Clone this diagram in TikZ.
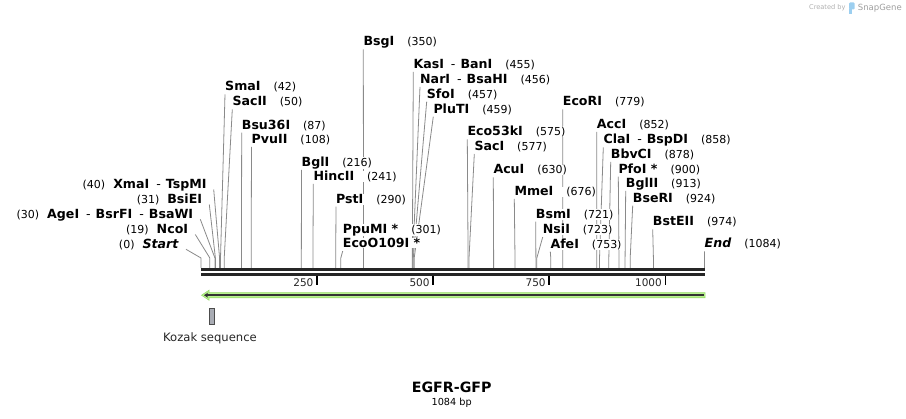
\documentclass[tikz,border=0pt]{standalone}
\usepackage{fontspec}
\setmainfont{DejaVu Sans}
\usetikzlibrary{arrows.meta,backgrounds}
\definecolor{enzgray}{HTML}{8A8A8A}
\definecolor{bardark}{HTML}{262626}
\definecolor{featg}{HTML}{B8F28E}
\definecolor{featgd}{HTML}{98DC6C}
\definecolor{kozakf}{HTML}{A9ACB4}
\definecolor{sgray}{HTML}{AFAFAF}
\definecolor{sblue}{HTML}{9CCFF0}
\newcommand\nf[1]{{\mdseries\upshape\fontsize{11}{13}\selectfont #1}}
\newcommand\sepd{\hspace{7pt}{\mdseries -}\hspace{5pt}}
\newcommand\gapn{\hspace{13pt}}
\newcommand\rsite[5]{%
  \node[enzlab, anchor=base west] (n#1) at (#3,#4) {#5};
  \coordinate (k#1) at ({201+#2*0.4645},258);
  \coordinate (b#1) at ({201+#2*0.4645},268);
  \begin{pgfonlayer}{background}
  \draw[enzline] ([yshift=-3.3pt]n#1.base west) -- (k#1) -- (b#1);
  \end{pgfonlayer}}
\newcommand\lsite[5]{%
  \node[enzlab, anchor=base east] (n#1) at (#3,#4) {#5};
  \coordinate (k#1) at ({201+#2*0.4645},258);
  \coordinate (b#1) at ({201+#2*0.4645},268);
  \begin{pgfonlayer}{background}
  \draw[enzline] ([xshift=7pt,yshift=-1pt]n#1.base east) -- (k#1) -- (b#1);
  \end{pgfonlayer}}
\begin{document}
\begin{tikzpicture}[x=1pt,y=-1pt,
  enzlab/.style={inner sep=0pt, fill=white, font=\bfseries\fontsize{12.6}{14}\selectfont},
  enzline/.style={draw=enzgray, line width=0.8pt},
  tickmark/.style={draw=black, line width=1.8pt},
  ticklab/.style={inner sep=0pt, anchor=base east, font=\fontsize{10.5}{12}\selectfont, text=black!85}]
\useasboundingbox (0,0) rectangle (906,419);

% watermark
\node[inner sep=0pt, anchor=base east, text=sgray, font=\fontsize{6.6}{8}\selectfont] (wm1) at (845.7,10) {Created by};
\node[inner sep=0pt, anchor=base west, text=sgray!90!black, font=\fontsize{8.5}{10}\selectfont] (wm2) at (857.7,10.5) {SnapGene};
\fill[sblue, rounded corners=1pt] (849,2.5) rectangle (854.5,9.5);
\fill[sblue] (849,9) rectangle (851.5,14);

% right-hand labels
\rsite{SmaI}{42}{225}{91}{SmaI\gapn\nf{(42)}}
\rsite{SacII}{50}{232.3}{106}{SacII\gapn\nf{(50)}}
\rsite{Bsu}{87}{241.7}{129.3}{Bsu36I\gapn\nf{(87)}}
\rsite{PvuII}{108}{251.5}{143.5}{PvuII\gapn\nf{(108)}}
\rsite{BglI}{216}{301.5}{166.5}{BglI\gapn\nf{(216)}}
\rsite{HincII}{241}{313.3}{180.7}{HincII\gapn\nf{(241)}}
\rsite{PstI}{290}{336}{203.3}{PstI\gapn\nf{(290)}}
\node[enzlab, anchor=base west] (nPpuMI) at (342.7,233.3) {PpuMI *\gapn\nf{(301)}};
\rsite{EcoO}{301}{342.7}{247.8}{EcoO109I *}
\rsite{BsgI}{350}{363.3}{46}{BsgI\gapn\nf{(350)}}
\rsite{KasI}{455}{413.3}{68.5}{KasI\sepd BanI\gapn\nf{(455)}}
\rsite{NarI}{456}{420}{83.5}{NarI\sepd BsaHI\gapn\nf{(456)}}
\rsite{SfoI}{457}{426.7}{98.3}{SfoI\gapn\nf{(457)}}
\rsite{PluTI}{459}{433.3}{113.3}{PluTI\gapn\nf{(459)}}
\rsite{Eco53}{575}{467.3}{136}{Eco53kI\gapn\nf{(575)}}
\rsite{SacI}{577}{474.3}{150.7}{SacI\gapn\nf{(577)}}
\rsite{AcuI}{630}{493.3}{174}{AcuI\gapn\nf{(630)}}
\rsite{MmeI}{676}{514.3}{195.7}{MmeI\gapn\nf{(676)}}
\rsite{BsmI}{721}{535.7}{218.3}{BsmI\gapn\nf{(721)}}
\rsite{NsiI}{723}{542.7}{233.8}{NsiI\gapn\nf{(723)}}
\rsite{AfeI}{753}{550.3}{248.3}{AfeI\gapn\nf{(753)}}
\rsite{EcoRI}{779}{562.7}{106}{EcoRI\gapn\nf{(779)}}
\rsite{AccI}{852}{596.7}{128.5}{AccI\gapn\nf{(852)}}
\rsite{ClaI}{858}{603.3}{144}{ClaI\sepd BspDI\gapn\nf{(858)}}
\rsite{BbvCI}{878}{610.7}{158.5}{BbvCI\gapn\nf{(878)}}
\rsite{PfoI}{900}{618.3}{173.3}{PfoI *\gapn\nf{(900)}}
\rsite{BglII}{913}{625.7}{187.5}{BglII\gapn\nf{(913)}}
\rsite{BseRI}{924}{632.7}{202.3}{BseRI\gapn\nf{(924)}}
\rsite{BstEII}{974}{652.7}{226}{BstEII\gapn\nf{(974)}}
\rsite{End}{1084}{704.5}{248}{\textit{End}\gapn\nf{(1084)}}

% left-hand labels
\lsite{XmaI}{40}{206.7}{188.5}{\nf{(40)}\hspace{8pt}XmaI\sepd TspMI}
\lsite{BsiEI}{31}{202.3}{203.5}{\nf{(31)}\hspace{8pt}BsiEI}
\lsite{AgeI}{30}{193.3}{218.3}{\nf{(30)}\hspace{8pt}AgeI\sepd BsrFI\sepd BsaWI}
\lsite{NcoI}{19}{188.3}{233.5}{\nf{(19)}\hspace{8pt}NcoI}
\lsite{Start}{0}{179}{248.3}{\nf{(0)}\hspace{8pt}\textit{Start}}

% sequence bar
\draw[bardark, line width=3.4pt] (201,269.8) -- (705,269.8);
\draw[bardark, line width=2.8pt] (201,274.6) -- (705,274.6);

% ruler ticks
\foreach \v/\t in {250/t1,500/t2,750/t3,1000/t4}{
  \coordinate (\t a) at ({201+\v*0.4645},276);
  \coordinate (\t b) at ({201+\v*0.4645},285);
  \draw[tickmark] (\t a) -- (\t b);
  \node[ticklab] (\t l) at ({201+\v*0.4645-3.5},286.5) {\v};
}

% GFP feature arrow
\fill[featg, draw=featgd, line width=0.6pt] (705,292.6) -- (209,292.6) -- (209,290.2) -- (201.5,295.2) -- (209,300.2) -- (209,297.8) -- (705,297.8) -- cycle;
\draw[black!80, line width=1.8pt, -{Stealth[length=4pt,width=5pt]}] (703.5,295.2) -- (204,295.2);

% Kozak sequence
\node[draw=black!70, fill=kozakf, line width=0.6pt, minimum width=5pt, minimum height=16pt, inner sep=0pt] (kozak) at (211.5,316.3) {};
\node[inner sep=0pt, anchor=base, font=\fontsize{11.6}{13}\selectfont, text=black!85] (kozakl) at (210,341.7) {Kozak sequence};

% title
\node[inner sep=0pt, anchor=base, font=\bfseries\fontsize{14.2}{16}\selectfont] (title) at (451.7,392.7) {EGFR-GFP};
\node[inner sep=0pt, anchor=base, font=\fontsize{9.7}{11}\selectfont] (len) at (451.7,405.7) {1084 bp};
\end{tikzpicture}
\end{document}
